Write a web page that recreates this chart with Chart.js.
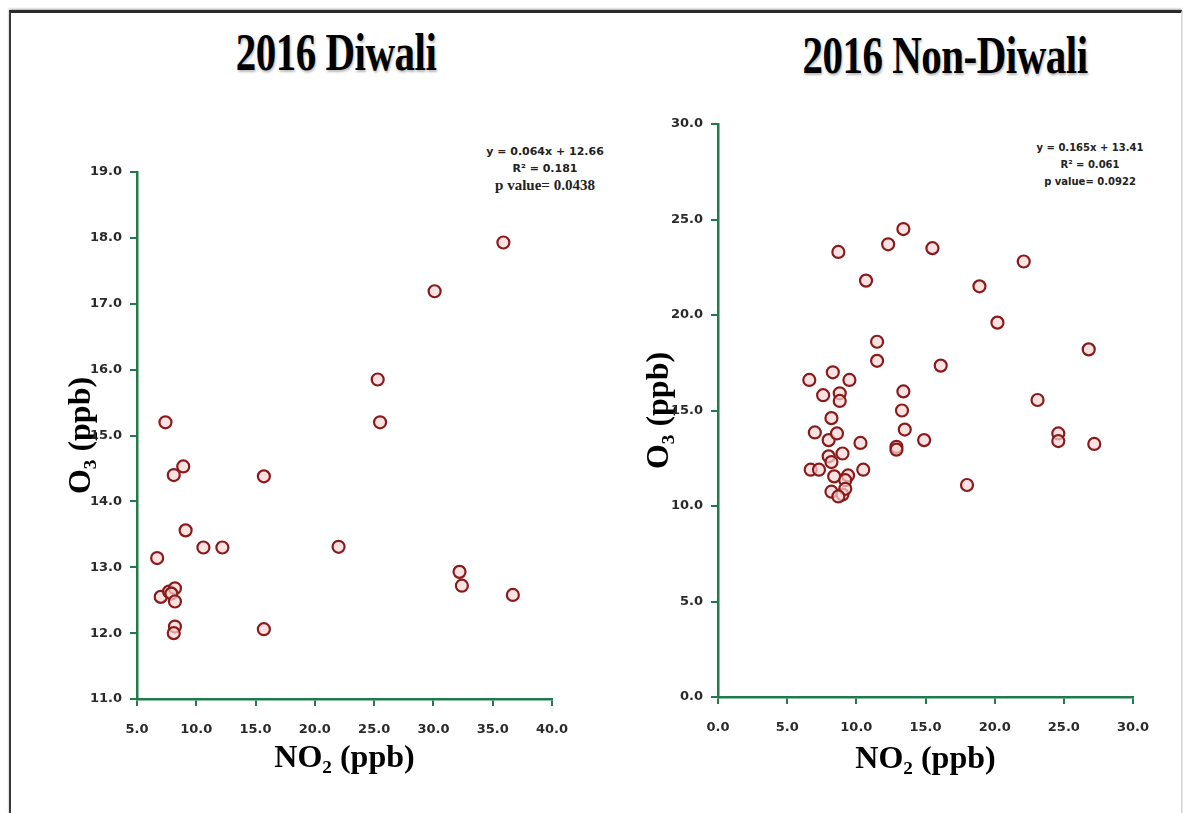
<!DOCTYPE html>
<html>
<head>
<meta charset="utf-8">
<script src="https://cdn.jsdelivr.net/npm/chart.js@4.4.0/dist/chart.umd.min.js"></script>
<style>
    body { margin: 0; background: #fff; width: 1183px; height: 813px; overflow: hidden; position: relative; }
    #frame { position: absolute; left: 9px; top: 10px; width: 1170px; height: 820px; border-top: 3px solid #2a2a2a; border-left: 2px solid #3a3a3a; border-right: 1px solid #d8d8d8; box-shadow: 0 -1px 2px #aaa; }
    .title { position: absolute; width: 420px; text-align: center; font-family: "Liberation Serif", "Times New Roman", serif; font-weight: bold; font-size: 41px; color: #000; transform: scaleY(1.3); text-shadow: 1px 1px 2px #bbb; letter-spacing: -0.5px; }
    .note { position: absolute; width: 180px; text-align: center; font-family: "DejaVu Sans", sans-serif; font-weight: bold; font-size: 10px; color: #222; line-height: 17px; }
    .note.big { font-size: 11px; }
    .note .serif { font-family: "Liberation Serif", serif; font-size: 15px; }
    canvas { position: absolute; }
</style>
</head>
<body>
<div id="frame"></div>
<div class="title" style="left:126px; top:28px;">2016 Diwali</div>
<div class="title" style="left:735px; top:31px;">2016 Non-Diwali</div>

<div class="note big" style="left:455px; top:143px;">y = 0.064x + 12.66<br>R² = 0.181<br><span class="serif">p value= 0.0438</span></div>
<div class="note" style="left:1000px; top:139px;">y = 0.165x + 13.41<br>R² = 0.061<br>p value= 0.0922</div>

<canvas id="diwali" width="570" height="690" style="left:20px; top:100px;"></canvas>
<canvas id="nonDiwali" width="570" height="730" style="left:600px; top:60px;"></canvas>

<script>
// 2016 Diwali
const diwaliNO2 = [7.4, 35.9, 30.1, 25.3, 25.5, 8.1, 8.9, 15.7, 9.1, 10.6, 12.2, 6.7, 22.0, 32.2, 32.4, 36.7, 7.0, 7.7, 8.2, 7.9, 8.2, 8.2, 8.1, 15.7];
const diwaliO3 = [15.2, 17.93, 17.19, 15.85, 15.2, 14.4, 14.53, 14.38, 13.56, 13.3, 13.3, 13.14, 13.31, 12.93, 12.72, 12.58, 12.55, 12.63, 12.68, 12.6, 12.48, 12.1, 12.0, 12.06];
const diwaliXRange = [5, 40, 5];
const diwaliYRange = [11, 19, 1];

// 2016 Non-Diwali
const nonDiwaliNO2 = [8.7, 12.3, 13.4, 15.5, 10.7, 22.1, 18.9, 20.2, 11.5, 11.5, 16.1, 26.8, 6.6, 8.3, 9.5, 7.6, 8.8, 8.8, 8.2, 13.4, 13.3, 13.5, 12.9, 12.9, 14.9, 23.1, 24.6, 24.6, 27.2, 18.0, 7.0, 8.0, 8.6, 10.3, 9.0, 8.0, 8.2, 6.7, 7.3, 10.5, 8.4, 9.4, 9.2, 8.2, 9.0, 9.2, 8.7];
const nonDiwaliO3 = [23.3, 23.7, 24.5, 23.5, 21.8, 22.8, 21.5, 19.6, 18.6, 17.6, 17.35, 18.2, 16.6, 17.0, 16.6, 15.8, 15.9, 15.5, 14.6, 16.0, 15.0, 14.0, 13.1, 12.95, 13.45, 15.55, 13.8, 13.4, 13.25, 11.1, 13.85, 13.45, 13.8, 13.3, 12.75, 12.6, 12.3, 11.9, 11.9, 11.9, 11.55, 11.6, 11.35, 10.75, 10.6, 10.9, 10.5];
const nonDiwaliXRange = [0, 30, 5];
const nonDiwaliYRange = [0, 30, 5];

const axisGreen = '#1f7a4c';
const tickFont = { family: 'DejaVu Sans', size: 13, weight: 'bold' };
const titleFont = { family: 'Liberation Serif', size: 32, weight: 'bold' };

function makeScatter(id, xs, ys, xRange, yRange, box) {
    const points = xs.map((x, i) => ({ x: x, y: ys[i] }));
    return new Chart(document.getElementById(id), {
        type: 'scatter',
        data: {
            datasets: [{
                data: points,
                pointRadius: 6,
                pointBorderWidth: 2.2,
                pointBorderColor: '#8a1a1a',
                pointBackgroundColor: 'rgba(248, 214, 214, 0.7)'
            }]
        },
        options: {
            responsive: false,
            animation: false,
            events: [],
            layout: { padding: box.padding },
            plugins: { legend: { display: false }, tooltip: { enabled: false } },
            scales: {
                x: {
                    type: 'linear',
                    min: xRange[0], max: xRange[1],
                    border: { color: axisGreen, width: 2.5 },
                    grid: { drawOnChartArea: false, color: axisGreen, lineWidth: 2, tickLength: 7 },
                    ticks: { stepSize: xRange[2], font: tickFont, color: '#2a2a2a', padding: 16, maxRotation: 0,
                        callback: v => v.toFixed(1) },
                    title: { display: true, text: 'NO₂ (ppb)', font: titleFont, color: '#000',
                        padding: { top: 0, bottom: box.xTitlePad } },
                    afterFit: s => { s.height = box.xHeight; }
                },
                y: {
                    type: 'linear',
                    min: yRange[0], max: yRange[1],
                    border: { color: axisGreen, width: 2.5 },
                    grid: { drawOnChartArea: false, color: axisGreen, lineWidth: 2, tickLength: 7 },
                    ticks: { stepSize: yRange[2], font: tickFont, color: '#2a2a2a', padding: 8,
                        callback: v => v.toFixed(1) },
                    title: { display: true, text: 'O₃ (ppb)', font: titleFont, color: '#000',
                        padding: { top: box.yTitlePad, bottom: 0 } },
                    afterFit: s => { s.width = 100; }
                }
            }
        }
    });
}

makeScatter('diwali', diwaliNO2, diwaliO3, diwaliXRange, diwaliYRange, {
    padding: { left: 17, right: 38, top: 72, bottom: 11 },
    xHeight: 80, xTitlePad: 1, yTitlePad: 26
});

makeScatter('nonDiwali', nonDiwaliNO2, nonDiwaliO3, nonDiwaliXRange, nonDiwaliYRange, {
    padding: { left: 18, right: 37, top: 64, bottom: 11 },
    xHeight: 82, xTitlePad: 0, yTitlePad: 23
});
</script>
</body>
</html>
